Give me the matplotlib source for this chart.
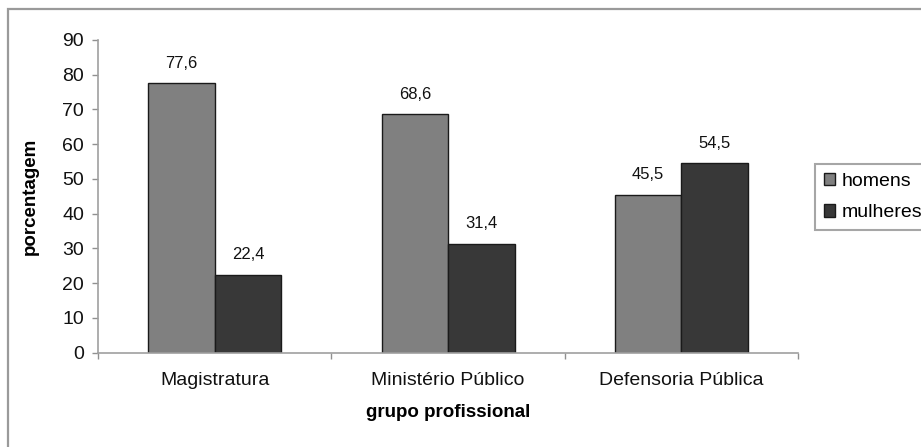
import matplotlib
matplotlib.use("Agg")
import matplotlib.pyplot as plt
import matplotlib.patches as patches
import numpy as np

plt.rcParams['font.family'] = ['Liberation Sans', 'DejaVu Sans']

grupos = ['Magistratura', 'Ministério Público', 'Defensoria Pública']
homens = [77.6, 68.6, 45.5]
mulheres = [22.4, 31.4, 54.5]
rotulos_homens = ['77,6', '68,6', '45,5']
rotulos_mulheres = ['22,4', '31,4', '54,5']

fig = plt.figure(figsize=(9.21, 4.47), dpi=100)
ax = fig.add_axes([98 / 921, 1 - 352.7 / 447, 700 / 921, 312.7 / 447])

# moldura cinza em volta do grafico
fig.patches.append(patches.Rectangle((8 / 921, -0.2), 1.5, 1.2 - 9 / 447,
                                     transform=fig.transFigure, fill=False,
                                     edgecolor='#9a9a9a', lw=1.6, zorder=0))

ind = np.arange(len(grupos))
w = 0.285
b1 = ax.bar(ind - w / 2, homens, w, color='#808080', edgecolor='#1a1a1a', lw=1.0, label='homens')
b2 = ax.bar(ind + w / 2, mulheres, w, color='#383838', edgecolor='#1a1a1a', lw=1.0, label='mulheres')

for rect, txt in zip(list(b1) + list(b2), rotulos_homens + rotulos_mulheres):
    ax.annotate(txt, (rect.get_x() + rect.get_width() / 2, rect.get_height()),
                xytext=(0, 9), textcoords='offset points', ha='center', va='bottom',
                fontsize=12, color='#111111')

ax.set_xlim(-0.5, 2.5)
ax.set_ylim(0, 90)
ax.set_yticks(range(0, 91, 10))
ax.set_xticks(ind)
ax.set_xticklabels(grupos)
ax.set_xticks([-0.5, 0.5, 1.5, 2.5], minor=True)
ax.tick_params(axis='x', which='major', length=0, pad=14, labelsize=14, labelcolor='#111111')
ax.tick_params(axis='x', which='minor', length=4, width=1, color='#909090', direction='out')
ax.tick_params(axis='y', length=4, width=1, color='#909090', labelsize=14, labelcolor='#111111', pad=6)

for s in ['top', 'right']:
    ax.spines[s].set_visible(False)
for s in ['left', 'bottom']:
    ax.spines[s].set_color('#a0a0a0')
    ax.spines[s].set_linewidth(1.2)

ax.set_ylabel('porcentagem', fontsize=13.5, fontweight='bold', labelpad=17)
ax.set_xlabel('grupo profissional', fontsize=13.5, fontweight='bold', labelpad=11)

leg = fig.legend(loc='upper left', bbox_to_anchor=(815 / 921, 1 - 164 / 447),
                 fontsize=14, frameon=True, fancybox=False, handlelength=0.6,
                 handleheight=0.6, handletextpad=0.3, borderpad=0.45,
                 labelspacing=0.75, borderaxespad=0)
leg.get_frame().set_edgecolor('#909090')
leg.get_frame().set_linewidth(1.5)

fig.savefig('out.png', dpi=100)
